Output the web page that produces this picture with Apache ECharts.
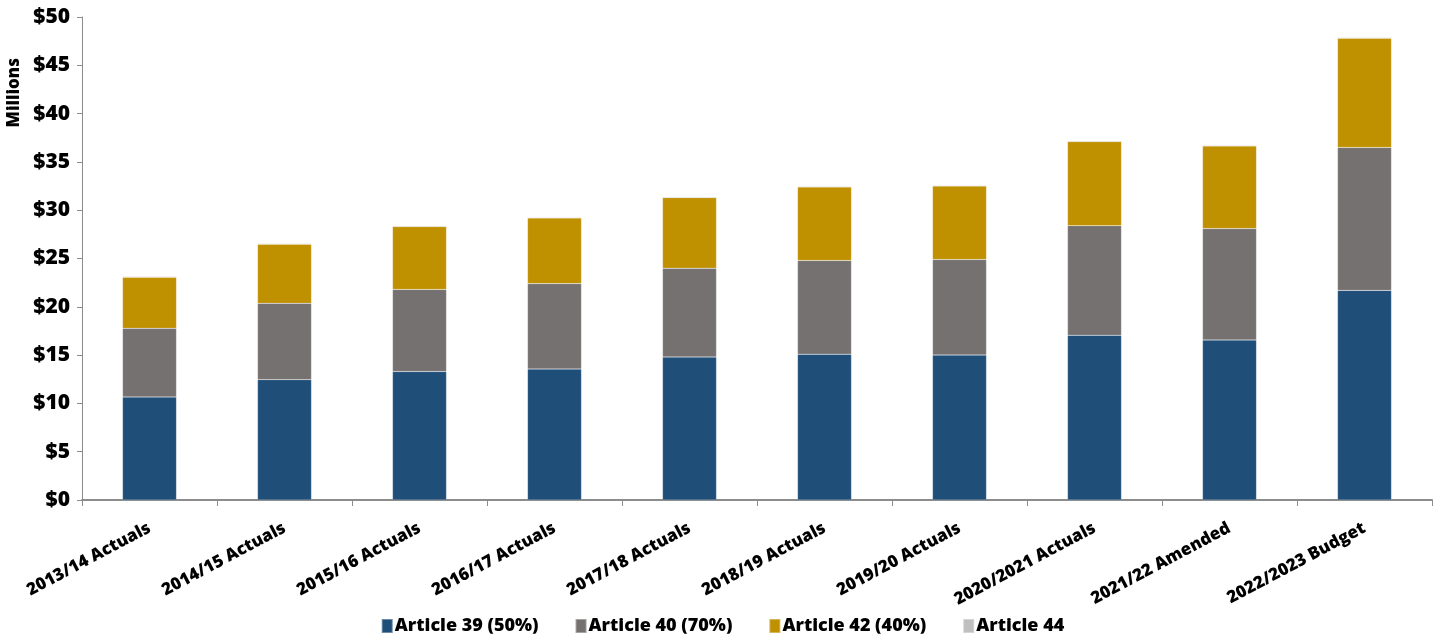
<!DOCTYPE html>
<html>
<head>
<meta charset="utf-8">
<script src="https://cdn.jsdelivr.net/npm/echarts@6/dist/echarts.min.js"></script>
<style>
  html, body { margin: 0; padding: 0; background: #fff; }
  #chart { width: 1445px; height: 642px; }
</style>
</head>
<body>
<div id="chart"></div>
<script>
// values in $ millions
const categories = ['2013/14 Actuals', '2014/15 Actuals', '2015/16 Actuals', '2016/17 Actuals',
  '2017/18 Actuals', '2018/19 Actuals', '2019/20 Actuals', '2020/2021 Actuals',
  '2021/22 Amended', '2022/2023 Budget'];
const art39 = [10.66, 12.46, 13.3, 13.56, 14.8, 15.1, 15.0, 17.05, 16.56, 21.7];
const art40 = [7.11, 7.9, 8.5, 8.84, 9.2, 9.7, 9.9, 11.35, 11.54, 14.8];
const art42 = [5.28, 6.11, 6.5, 6.8, 7.3, 7.6, 7.6, 8.7, 8.55, 11.3];
const art44 = [0.08, 0.08, 0.08, 0.08, 0.08, 0.08, 0.08, 0.08, 0.08, 0.08];
const yTicks = [0, 5, 10, 15, 20, 25, 30, 35, 40, 45, 50];

const FONT = '"Open Sans"';

let myChart = echarts.init(document.getElementById('chart'));

function seriesOf(name, data, color) {
  return {
    name: name,
    type: 'bar',
    stack: 'total',
    barWidth: '40%',
    itemStyle: { color: color, borderColor: 'rgba(255,255,255,0.35)', borderWidth: 0.5 },
    data: data
  };
}

let option = {
  animation: false,
  textStyle: { fontFamily: FONT },
  grid: { left: 82, right: 13, top: 17, bottom: 142 },
  legend: {
    bottom: 2,
    left: 'center',
    itemWidth: 11,
    itemHeight: 14,
    itemGap: 36,
    icon: 'rect',
    textStyle: { fontFamily: FONT, fontWeight: 800, fontSize: 18, color: '#000', padding: [0, 0, 0, -3] },
    data: ['Article 39 (50%)', 'Article 40 (70%)', 'Article 42 (40%)', 'Article 44']
  },
  xAxis: {
    type: 'category',
    data: categories,
    axisLine: { lineStyle: { color: '#8c8c8c', width: 2 } },
    axisTick: { show: true, length: 6, lineStyle: { color: '#8c8c8c' } },
    axisLabel: {
      interval: 0,
      rotate: 28,
      margin: 27,
      fontFamily: FONT,
      fontWeight: 800,
      fontSize: 17,
      color: '#000'
    }
  },
  yAxis: {
    type: 'value',
    min: yTicks[0],
    max: yTicks[yTicks.length - 1],
    interval: 5,
    splitLine: { show: false },
    axisLine: { show: true, lineStyle: { color: '#8c8c8c', width: 1 } },
    axisTick: { show: true, length: 5, lineStyle: { color: '#8c8c8c' } },
    axisLabel: {
      margin: 12,
      fontFamily: FONT,
      fontWeight: 800,
      fontSize: 21,
      color: '#000',
      formatter: function (v) { return '$' + v; }
    }
  },
  graphic: [{
    type: 'text',
    left: 6,
    top: 58,
    rotation: Math.PI / 2,
    style: {
      text: 'Millions',
      fontFamily: FONT,
      fontWeight: 800,
      fontSize: 17,
      fill: '#000'
    }
  }],
  series: [
    seriesOf('Article 39 (50%)', art39, '#1F4E79'),
    seriesOf('Article 40 (70%)', art40, '#767171'),
    seriesOf('Article 42 (40%)', art42, '#BF9000'),
    seriesOf('Article 44', art44, '#BFBFBF')
  ]
};

myChart.setOption(option);
</script>
</body>
</html>
